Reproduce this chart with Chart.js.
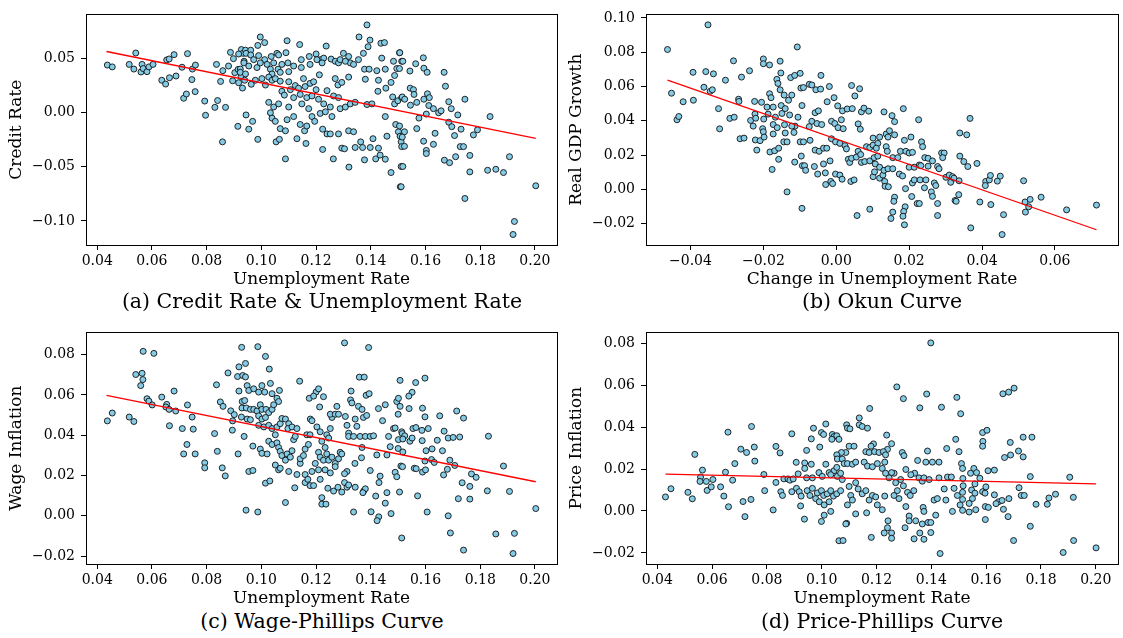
<!DOCTYPE html>
<html>
<head>
<meta charset="utf-8">
<script src="https://cdn.jsdelivr.net/npm/chart.js@4.4.0/dist/chart.umd.min.js"></script>
<style>
  body { margin: 0; background: #fff; width: 1123px; height: 638px; overflow: hidden; position: relative; font-family: 'DejaVu Serif', serif; }
  .panel { position: absolute; }
  .cap { position: absolute; font-size: 20.5px; color: #000; white-space: nowrap; transform: translate(-50%, -50%); }
</style>
</head>
<body>
<div class="panel" style="left:0;top:0"><canvas id="chartA" width="562" height="290"></canvas></div>
<div class="panel" style="left:560px;top:0"><canvas id="chartB" width="563" height="290"></canvas></div>
<div class="panel" style="left:0;top:318px"><canvas id="chartC" width="562" height="291"></canvas></div>
<div class="panel" style="left:560px;top:318px"><canvas id="chartD" width="563" height="291"></canvas></div>
<div class="cap" style="left:322px;top:301px">(a) Credit Rate &amp; Unemployment Rate</div>
<div class="cap" style="left:882px;top:301px">(b) Okun Curve</div>
<div class="cap" style="left:322px;top:621px">(c) Wage-Phillips Curve</div>
<div class="cap" style="left:882px;top:621px">(d) Price-Phillips Curve</div>
<script>
// Data block: [x, y] pairs
const creditVsUnemp = [
  [0.0437,0.0437],[0.0455,0.042],[0.0517,0.0443],[0.0534,0.040],[0.0541,0.0548],[0.0564,0.0443],[0.056,0.0373],[0.0568,0.0405],[0.0582,0.0376],[0.0589,0.042],
  [0.0604,0.0443],[0.0636,0.0297],[0.065,0.0262],[0.0654,0.0484],[0.0663,0.0493],[0.0664,0.032],[0.0681,0.0533],[0.0688,0.0336],[0.071,0.0417],[0.0716,0.0131],
  [0.0726,0.017],[0.073,0.0542],[0.0746,0.0303],[0.0748,0.04],[0.0759,0.0437],[0.0758,0.0192],[0.0793,0.0105],[0.0796,-0.0026],[0.083,0.0047],[0.0836,0.0443],
  [0.084,0.011],[0.0851,0.0286],[0.0859,0.0385],[0.0858,-0.0271],[0.0869,0.0047],[0.088,0.0428],[0.0887,0.0554],[0.0895,0.0292],[0.0898,0.0496],[0.0903,0.0367],
  [0.0914,-0.0128],[0.0917,0.0274],[0.0915,0.0397],[0.0923,0.04],[0.0927,0.058],[0.0931,0.0225],[0.0926,0.0332],[0.0933,0.0545],[0.0937,0.0472],
  [0.1386,0.0807],[0.1357,0.0696],[0.0996,0.0696],[0.1012,0.0644],[0.1094,0.0661],[0.114,0.0626],[0.1237,0.0612],[0.1397,0.0667],[0.139,0.0606],[0.1437,0.0638],
  [0.145,0.0644],[0.1505,0.0551],[0.0987,0.0618],[0.0942,0.0574],[0.0961,0.0574],[0.0917,0.0539],[0.0944,0.0545],[0.0961,0.053],[0.099,0.0524],[0.1012,0.0487],
  [0.1036,0.0516],[0.1057,0.0545],[0.1063,0.053],[0.109,0.0551],[0.1097,0.0457],[0.1118,0.0428],[0.1146,0.0487],[0.1175,0.0516],[0.1178,0.0443],[0.12,0.0539],
  [0.1216,0.0487],[0.1228,0.0501],[0.1255,0.0492],[0.127,0.0472],[0.1282,0.0457],[0.13,0.0545],[0.1319,0.0516],[0.1325,0.0457],[0.1337,0.0443],[0.1355,0.0487],
  [0.1373,0.0545],[0.1377,0.0399],[0.1394,0.0399],[0.1422,0.0385],[0.1428,0.0297],[0.1453,0.0399],[0.144,0.0501],[0.1483,0.0472],[0.1495,0.0405],[0.1487,0.0341],
  [0.1474,0.0277],[0.1513,0.0472],[0.0936,0.0457],[0.0954,0.0428],[0.0972,0.0487],[0.0984,0.0414],[0.0996,0.0457],[0.1021,0.0443],[0.1033,0.0399],[0.1045,0.0457],
  [0.1061,0.0399],[0.1075,0.0443],[0.0923,0.037],[0.1039,0.0355],[0.1069,0.037],[0.11,0.0376],[0.1146,0.0414],[0.1203,0.0487],[0.1222,0.0457],[0.1288,0.0487],
  [0.1307,0.0472],[0.0942,0.0355],[0.0939,0.0297],[0.0963,0.026],[0.0978,0.0297],[0.1002,0.0312],[0.1015,0.0253],[0.1027,0.0326],[0.1039,0.0297],[0.1051,0.0312],
  [0.1069,0.0288],[0.1075,0.0195],[0.1084,0.016],[0.11,0.0283],[0.1106,0.021],[0.1118,0.0137],[0.1124,0.0248],[0.1136,0.0224],[0.1154,0.0312],[0.116,0.0239],
  [0.1166,0.0137],[0.1178,0.0268],[0.1191,0.0283],[0.12,0.021],[0.1209,0.0122],[0.1212,0.0347],[0.1228,0.0079],[0.124,0.0201],[0.1252,0.005],[0.1264,0.0152],
  [0.127,0.0312],[0.128,0.0253],[0.1288,0.0035],[0.1294,0.0277],[0.1307,0.005],[0.1319,0.0326],[0.1325,0.0079],[0.1343,0.0093],[0.138,0.0306],[0.1386,0.0073],
  [0.1404,0.0079],[0.1426,0.0195],[0.1453,-0.0038],[0.1455,0.0224],[0.148,0.0143],[0.1487,0.0079],[0.1499,0.0108],[0.1513,0.0137],[0.1027,0.0093],[0.1045,0.005],
  [0.1063,0.0079],[0.11,0.005],[0.1148,0.0079],[0.1173,0.0035],[0.1215,-0.0009],[0.1234,0.0006],[0.1142,0.0166],[0.1185,0.0152],[0.1282,0.0137],
  [0.0944,-0.0023],[0.0968,-0.0082],[0.0954,-0.0154],[0.0987,-0.0248],[0.1033,-0.0003],[0.1039,-0.0052],[0.1051,-0.0082],[0.1069,-0.0149],[0.1088,-0.0169],[0.1054,-0.0271],
  [0.1066,-0.0248],[0.1088,-0.0428],[0.1094,-0.0067],[0.1118,-0.0038],[0.113,-0.0242],[0.1142,-0.0111],[0.1158,-0.0169],[0.1166,-0.0125],[0.1163,-0.0286],[0.1185,-0.0038],
  [0.1195,-0.0082],[0.1224,-0.0154],[0.1224,-0.0341],[0.124,-0.0198],[0.1252,-0.0198],[0.1258,-0.0038],[0.1282,-0.0198],[0.1294,-0.0329],[0.1304,-0.0335],[0.1263,-0.0428],
  [0.1319,-0.0169],[0.1337,-0.0178],[0.132,-0.0504],[0.1343,-0.0323],[0.1363,-0.0271],[0.137,-0.0323],[0.1377,-0.0437],[0.1398,-0.0323],[0.1408,-0.0242],[0.1428,-0.0329],
  [0.1418,-0.0428],[0.1434,-0.0393],[0.1459,-0.0219],[0.1453,-0.0431],[0.1474,-0.0554],[0.1491,-0.0111],[0.1501,-0.0178],[0.1507,-0.0219],[0.1511,-0.0271],[0.1508,-0.0685],
  [0.1511,-0.0498],[0.1513,-0.0315],
  [0.1506,0.0551],[0.1517,0.0472],[0.1505,0.0405],[0.1543,0.0382],[0.1564,0.0449],[0.1592,0.0504],[0.1594,0.0408],[0.1606,0.037],[0.1668,0.037],[0.1673,0.0242],
  [0.1544,0.0224],[0.1556,0.021],[0.1558,0.0166],[0.1515,0.0143],[0.1524,0.0122],[0.1545,0.0067],[0.1568,0.0093],[0.1594,0.0122],[0.1607,0.0172],[0.1614,0.0137],
  [0.1612,0.0064],[0.1629,0.0035],[0.1648,-0.0003],[0.1657,0.0015],[0.1685,0.0099],[0.1694,0.0035],[0.1718,-0.0023],[0.1744,0.0122],[0.1603,-0.0015],[0.1576,-0.0052],
  [0.1505,-0.0125],[0.1523,-0.0178],[0.1515,-0.0227],[0.1523,-0.0312],[0.1568,-0.0149],[0.1593,-0.0265],[0.1603,-0.035],[0.1603,-0.0379],[0.1629,-0.0294],[0.1635,-0.0192],
  [0.1685,-0.009],[0.1696,-0.0131],[0.1706,-0.0213],[0.173,-0.0154],[0.1727,-0.0315],[0.1739,-0.0315],[0.1775,-0.0207],[0.179,-0.016],[0.1836,-0.0038],[0.171,-0.0408],
  [0.1669,-0.044],[0.1688,-0.0463],[0.1762,-0.0396],[0.1762,-0.0548],[0.1827,-0.0533],[0.1857,-0.0524],[0.1885,-0.0554],[0.1907,-0.0408],[0.1744,-0.0793],[0.2003,-0.0676],
  [0.1925,-0.1005],[0.192,-0.1125],[0.1517,-0.0498],[0.1511,-0.0685]
];
const okunPts = [
  [-0.0352,0.096],[-0.0463,0.0816],[-0.0452,0.0561],[-0.0437,0.0406],[-0.0432,0.0425],[-0.042,0.0511],[-0.0392,0.052],[-0.0393,0.0683],[-0.0358,0.0687],[-0.0337,0.0674],
  [-0.0363,0.0596],[-0.0346,0.0572],[-0.034,0.0581],[-0.0323,0.0471],[-0.032,0.0353],[-0.0304,0.0637],[-0.0292,0.0414],[-0.028,0.0421],[-0.0282,0.075],[-0.0268,0.0526],
  [-0.0267,0.0513],[-0.0264,0.0295],[-0.0253,0.0299],[-0.026,0.0655],[-0.0238,0.0692],[-0.0235,0.0402],[-0.0228,0.0369],[-0.0223,0.0439],[-0.0221,0.0415],[-0.0224,0.0513],
  [-0.0222,0.0288],[-0.0218,0.0229],[-0.0209,0.0284],[-0.0205,0.0508],[-0.02,0.0761],[-0.02,0.0733],[-0.0183,0.0726],[-0.0199,0.041],[-0.0202,0.0354],[-0.02,0.0336],
  [-0.0198,0.0305],[-0.019,0.048],[-0.0187,0.0439],[-0.0173,0.048],[-0.0183,0.0558],[-0.0179,0.0535],[-0.0182,0.0218],[-0.0176,0.0116],[-0.0169,0.0225],[-0.0158,0.024],
  [-0.0158,0.0175],[-0.0173,0.0378],[-0.0167,0.0421],[-0.0173,0.0323],[-0.0162,0.036],[-0.0163,0.0642],[-0.016,0.0618],[-0.0154,0.0748],[-0.0152,0.0679],[-0.0154,0.0581],
  [-0.0151,0.0489],[-0.0149,0.0443],[-0.0143,0.055],[-0.014,0.0471],[-0.0142,0.0377],[-0.014,0.0329],[-0.0135,-0.0015],[-0.0144,0.0277],[-0.0135,0.0277],[-0.0131,0.052],
  [-0.0122,0.055],[-0.0125,0.0652],[-0.0114,0.0665],[-0.0107,0.0831],[-0.0099,0.0677],[-0.0113,0.0369],[-0.0116,0.0332],[-0.0114,0.0159],[-0.0105,0.0421],[-0.0097,0.0591],
  [-0.0094,0.0489],[-0.0099,0.0277],[-0.0096,0.0194],[-0.0093,0.0138],[-0.0094,-0.0111],[-0.0128,0.0434],[-0.0122,0.0369],
  [-0.009,0.0594],[-0.0074,0.0613],[-0.0067,0.0609],[-0.0056,0.0581],[-0.0043,0.0585],[-0.0042,0.0665],[-0.0019,0.06],[-0.0067,0.0397],[-0.0074,0.0366],[-0.0053,0.0384],
  [-0.004,0.0378],[-0.0058,0.0447],[-0.0049,0.0458],[-0.0025,0.0511],[-0.0006,0.0535],[0.0004,0.0487],[0.0017,0.0458],[0.003,0.0469],[0.0044,0.0471],[0.0042,0.0606],
  [0.0064,0.0587],[0.0051,0.0545],[0.0069,0.0452],[0.0076,0.0474],[0.0089,0.0456],[0.006,0.0382],[0.0066,0.0351],[0.0131,0.0452],[0.0153,0.043],[0.016,0.0395],
  [0.0184,0.0471],[0.0226,0.0406],[-0.0013,0.0397],[-0.0004,0.0384],[0.0005,0.036],[0.0014,0.0406],[0.0019,0.0354],[-0.009,0.0277],[-0.0072,0.0286],[-0.0058,0.0229],
  [-0.0047,0.0222],[-0.0035,0.024],[-0.0026,0.024],[-0.0087,0.0138],[-0.0084,0.0111],[-0.006,0.0133],[-0.0051,0.0089],[-0.0035,0.0148],[-0.003,0.0096],[-0.0017,0.0166],
  [-0.0029,0.0028],[-0.0015,0.0046],[-0.001,0.0033],[-0.0002,0.0089],[0.001,0.0083],[0.0016,0.0059],[0.004,0.0046],[0.0049,0.0055],[-0.0013,0.0295],[-0.0002,0.0277],
  [0.001,0.0268],[0.0024,0.0255],[0.0028,0.0236],[0.0033,0.0175],[0.0037,0.0157],[0.0042,0.0181],[0.0055,0.0188],[0.006,0.0222],[0.0067,0.0203],[0.0069,0.0157],
  [0.0078,0.0162],[0.0092,0.0166],[0.0104,0.0185],[0.0107,0.0148],[0.0114,0.0194],[0.0083,0.0249],[0.0092,0.0244],[0.0101,0.0258],[0.0114,0.0268],[0.011,0.024],
  [0.0101,0.0299],[0.0119,0.0305],[0.0137,0.0323],[0.0146,0.0342],[0.0142,0.0305],[0.016,0.0318],[0.0137,0.0249],[0.014,0.0222],[0.0155,0.0185],[0.0169,0.0185],
  [0.0176,0.0222],[0.0191,0.0222],[0.02,0.0212],[0.0209,0.0216],[0.0187,0.0286],[0.0205,0.0305],[0.0234,0.0277],[0.0237,0.0249],[0.0101,0.0074],[0.0105,0.0102],
  [0.0119,0.0065],[0.0128,0.0083],[0.0133,0.0046],[0.0134,0.0018],[0.0143,0.0015],[0.0119,0.0129],[0.0131,0.0111],[0.0142,0.012],[0.0155,0.012],[0.0173,0.0089],
  [0.0182,0.0078],[0.02,0.0129],[0.0214,0.0129],[0.0228,0.0142],[0.0232,0.0138],[0.0209,0.0037],[0.0214,0.0055],[0.023,0.0055],[0.0246,0.0055],[0.0242,0.0009],
  [0.0243,0.0185],[0.0252,0.0181],[0.0264,0.0166],[0.0252,0.0135],[0.0278,0.0133],[0.0289,0.0212],[0.0296,0.0212],[0.0292,0.0185],[0.0282,0.012],[0.0269,0.0037],
  [0.0273,0.0022],[0.0261,-0.0015],[0.0264,-0.0041],[0.0301,0.007],[0.031,0.0083],[0.0319,0.0074],[0.0314,0.0041],[0.0323,0.0065],[0.0339,0.0329],[0.0339,0.0194],
  [0.016,-0.0046],[0.0158,-0.007],[0.0189,-0.0102],[0.0185,-0.0129],[0.0183,-0.0157],[0.0187,-0.0207],[0.0155,-0.0133],[0.015,-0.017],[0.0057,-0.0153],[0.0092,-0.0116],
  [0.0222,-0.0083],[0.0228,-0.0083],[0.0278,-0.0083],[0.0278,-0.0153],[0.0326,-0.0065],[0.0329,-0.007],[0.0336,-0.0031],[0.019,0.0004],[0.0207,-0.0042],
  [0.0367,0.0414],[0.0358,0.0318],[0.035,0.0162],[0.0361,0.0133],[0.0386,0.0151],[0.0337,0.005],[0.041,0.0046],[0.0409,0.0022],[0.042,0.0055],[0.0423,0.0081],
  [0.0442,0.0048],[0.045,0.0077],[0.0514,0.005],[0.0394,-0.0074],[0.0424,-0.0089],[0.0459,-0.0148],[0.0369,-0.0225],[0.0455,-0.0264],[0.0518,-0.0074],[0.0532,-0.0059],
  [0.0528,-0.0102],[0.0519,-0.0133],[0.0562,-0.0046],[0.0632,-0.012],[0.0714,-0.0092]
];
const wagePts = [
  [0.0437,0.0471],[0.0455,0.051],[0.0517,0.049],[0.0534,0.0468],[0.0568,0.0816],[0.0607,0.0806],[0.0541,0.0701],[0.0564,0.0707],[0.0567,0.0676],[0.0559,0.0646],
  [0.0582,0.0581],[0.0589,0.0569],[0.0601,0.055],[0.0636,0.0589],[0.0654,0.0553],[0.0651,0.054],[0.0663,0.0528],[0.0681,0.0619],[0.0687,0.052],[0.0664,0.0447],
  [0.0711,0.0433],[0.073,0.055],[0.0747,0.049],[0.0751,0.043],[0.0728,0.0354],[0.0716,0.0307],[0.0758,0.0307],[0.0793,0.0263],[0.0793,0.0238],[0.0829,0.0408],
  [0.0839,0.032],[0.0836,0.065],[0.085,0.0565],[0.086,0.0543],[0.0857,0.0238],[0.0868,0.0198],[0.0878,0.0709],[0.0888,0.0521],[0.0901,0.0502],[0.0895,0.0471],
  [0.0894,0.0425],[0.0915,0.0307],[0.0913,0.0691],[0.0928,0.0836],[0.0918,0.0739],[0.0918,0.0619],[0.0932,0.0696],[0.0929,0.0535],[0.0927,0.049],[0.0937,0.0394],
  [0.0987,0.0839],[0.1015,0.0791],[0.0942,0.0756],[0.1029,0.0728],[0.1033,0.0657],[0.114,0.0668],[0.1304,0.0858],[0.1392,0.0835],[0.1358,0.0688],[0.1376,0.0688],
  [0.1507,0.0672],[0.0942,0.0689],[0.0948,0.0646],[0.0954,0.0622],[0.0972,0.063],[0.099,0.0614],[0.1002,0.0646],[0.1012,0.0614],[0.1039,0.0606],[0.1066,0.0622],
  [0.1057,0.0583],[0.1063,0.0567],[0.093,0.0567],[0.0939,0.0572],[0.0945,0.0535],[0.096,0.0528],[0.0972,0.0528],[0.0984,0.052],[0.0996,0.0551],[0.1002,0.0528],
  [0.1017,0.0528],[0.1027,0.0512],[0.1039,0.0528],[0.1045,0.0551],[0.0948,0.048],[0.096,0.0477],[0.099,0.0496],[0.1002,0.048],[0.1015,0.0488],[0.099,0.0449],
  [0.1009,0.0441],[0.1027,0.0449],[0.1039,0.0433],[0.1057,0.0441],[0.1069,0.0457],[0.1075,0.0483],[0.1088,0.048],[0.11,0.0457],[0.1097,0.0433],[0.1112,0.0441],
  [0.0969,0.0346],[0.0996,0.0331],[0.1002,0.031],[0.1021,0.0307],[0.1027,0.037],[0.1039,0.0354],[0.1051,0.0402],[0.1057,0.0362],[0.1063,0.0339],[0.1069,0.032],
  [0.1075,0.0299],[0.1088,0.0276],[0.1094,0.0307],[0.1106,0.0291],[0.1112,0.0323],[0.1118,0.0378],[0.1124,0.0394],[0.113,0.0433],[0.1051,0.0252],[0.1063,0.0228],
  [0.1069,0.0236],[0.11,0.022],[0.113,0.0205],[0.1142,0.026],[0.1142,0.0283],[0.1154,0.0299],[0.116,0.0331],[0.1172,0.0354],[0.1166,0.0402],[0.1178,0.0402],
  [0.116,0.0205],[0.116,0.0165],[0.117,0.0181],[0.1178,0.015],[0.1191,0.015],[0.1197,0.026],[0.1185,0.022],[0.1015,0.0162],[0.1031,0.0173],[0.0954,0.022],
  [0.0969,0.0225],[0.0944,0.0028],[0.0987,0.0019],[0.1088,0.0066],[0.1122,0.0139],[0.1179,0.048],[0.1185,0.0472],[0.12,0.0614],[0.1209,0.063],[0.1213,0.054],
  [0.1175,0.0583],[0.1191,0.0594],[0.1227,0.0591],[0.1203,0.0441],[0.1215,0.0417],[0.1221,0.037],[0.1233,0.0339],[0.1239,0.0402],[0.1246,0.0386],[0.1252,0.0433],
  [0.1258,0.0488],[0.1252,0.0504],[0.1209,0.0315],[0.1215,0.0291],[0.1227,0.0276],[0.1239,0.0307],[0.1246,0.0276],[0.1258,0.0291],[0.127,0.026],[0.1282,0.0283],
  [0.1288,0.0315],[0.1294,0.0307],[0.1209,0.0228],[0.1215,0.0181],[0.1233,0.0228],[0.1252,0.0213],[0.127,0.0244],[0.1221,0.009],[0.1221,0.0058],[0.1236,0.0058],
  [0.1243,0.0137],[0.1264,0.0123],[0.128,0.0142],[0.1294,0.0118],[0.1304,0.0165],[0.1313,0.0142],[0.1319,0.0153],[0.1343,0.0142],[0.1374,0.0123],[0.138,0.0134],
  [0.1371,0.0115],[0.1418,0.0098],[0.143,0.0165],[0.1434,0.0197],[0.1459,0.0115],[0.1453,0.0063],[0.1474,0.0011],[0.1429,-0.0005],[0.1423,-0.0024],[0.1401,0.002],
  [0.1337,0.0019],[0.127,0.0504],[0.1282,0.0504],[0.1276,0.0543],[0.1307,0.0493],[0.1313,0.0449],[0.1319,0.041],[0.1326,0.0575],[0.1331,0.056],[0.1328,0.0619],
  [0.1343,0.048],[0.1355,0.0543],[0.1368,0.0528],[0.1373,0.0488],[0.1383,0.0598],[0.1394,0.0606],[0.1385,0.0498],[0.1319,0.0394],[0.1337,0.0394],[0.1349,0.0444],
  [0.1361,0.0394],[0.1368,0.0339],[0.138,0.0394],[0.1398,0.0394],[0.141,0.0397],[0.1342,0.026],[0.1366,0.0288],[0.1398,0.0225],[0.1422,0.0302],[0.1428,0.0532],
  [0.1443,0.0472],[0.1453,0.0551],[0.1459,0.0302],[0.1471,0.0343],[0.1465,0.0394],[0.1313,0.022],[0.1304,0.0209],[0.1483,0.0433],[0.1489,0.0436],[0.1495,0.0567],
  [0.1501,0.0583],[0.1507,0.0543],[0.1501,0.0378],[0.1513,0.0417],[0.1489,0.0216],[0.1495,0.0194],[0.151,0.0247],[0.1505,0.0118],[0.1513,-0.011],
  [0.1564,0.0661],[0.1598,0.0683],[0.1551,0.0613],[0.1539,0.0594],[0.15,0.0504],[0.154,0.0532],[0.1589,0.0534],[0.1598,0.0491],[0.1652,0.0496],[0.1714,0.052],
  [0.1739,0.0485],[0.1515,0.0408],[0.1524,0.0397],[0.1517,0.0381],[0.1543,0.037],[0.1551,0.0386],[0.1554,0.0433],[0.1565,0.0438],[0.1587,0.0424],[0.1588,0.0373],
  [0.161,0.0433],[0.1643,0.0375],[0.1668,0.042],[0.1683,0.0386],[0.1701,0.0389],[0.1725,0.0391],[0.183,0.0395],[0.15,0.0334],[0.1517,0.0317],[0.1602,0.0323],
  [0.1624,0.0332],[0.1662,0.0323],[0.1516,0.0244],[0.1598,0.0272],[0.1622,0.0279],[0.1632,0.0265],[0.1689,0.0276],[0.1707,0.025],[0.168,0.0231],[0.1666,0.0203],
  [0.1559,0.0236],[0.1566,0.0234],[0.1589,0.0217],[0.16,0.0228],[0.1768,0.0208],[0.1785,0.0191],[0.1885,0.0247],[0.1734,0.0164],[0.1762,0.0146],[0.1826,0.0124],
  [0.1907,0.0121],[0.172,0.0085],[0.1762,0.0083],[0.1571,0.0099],[0.1606,0.0019],[0.1683,0.0],[0.1691,-0.0085],[0.1857,-0.009],[0.1925,-0.0087],[0.1739,-0.017],
  [0.192,-0.0187],[0.2003,0.0036]
];
const pricePts = [
  [0.043,0.0067],[0.045,0.0106],[0.0512,0.0089],[0.0528,0.0058],[0.0537,0.027],[0.0558,0.0162],[0.0556,0.0141],[0.0565,0.0195],[0.0579,0.0141],[0.0582,0.0098],
  [0.0597,0.0115],[0.0603,0.015],[0.0631,0.0115],[0.0643,0.0071],[0.0649,0.0185],[0.0658,0.0376],[0.066,0.002],[0.0675,0.0147],[0.0683,0.0226],[0.0705,0.0295],
  [0.0713,0.0045],[0.072,-0.0027],[0.0726,0.0279],[0.0742,0.0055],[0.0744,0.0403],[0.0754,0.0305],[0.0756,0.0238],[0.0789,0.0174],[0.0792,0.0097],[0.0823,0.0005],
  [0.0833,0.0136],[0.0833,0.0308],[0.0848,0.0277],[0.0851,0.0092],[0.0857,0.0074],[0.0862,0.0153],[0.0877,0.0153],[0.0884,0.0147],[0.0891,0.0368],[0.0891,0.0092],
  [0.0896,0.0153],[0.0907,0.0232],[0.0908,0.0108],[0.0914,0.0177],[0.0918,0.0092],[0.0923,0.0024],[0.0925,0.0071],
  [0.1398,0.0802],[0.1274,0.0592],[0.1298,0.0536],[0.1383,0.0558],[0.1358,0.0492],[0.1437,0.0495],[0.1493,0.0542],[0.1507,0.0464],[0.1175,0.0489],[0.1137,0.0444],
  [0.1137,0.0411],[0.1148,0.0403],[0.1167,0.0395],[0.1091,0.0411],[0.1094,0.0395],[0.1103,0.0392],[0.097,0.0395],[0.0999,0.0374],[0.1015,0.0415],[0.1007,0.0365],
  [0.1039,0.0365],[0.1045,0.0355],[0.1055,0.0359],[0.1063,0.0342],[0.0962,0.0344],[0.0945,0.0289],[0.0993,0.0305],[0.1037,0.0342],[0.1237,0.0362],[0.1255,0.0321],
  [0.124,0.0294],[0.1294,0.0279],[0.13,0.0264],[0.1189,0.032],[0.118,0.0309],[0.1161,0.0283],[0.1173,0.0279],[0.1193,0.0283],[0.1209,0.0279],[0.1225,0.0283],
  [0.1233,0.0268],[0.11,0.0309],[0.1118,0.0309],[0.1088,0.0279],[0.1072,0.0279],[0.1055,0.0268],[0.1057,0.0248],[0.1075,0.0248],[0.1082,0.0226],[0.1094,0.0226],
  [0.1112,0.0223],[0.1124,0.0233],[0.1155,0.0233],[0.1167,0.0214],[0.1185,0.0211],[0.1203,0.0226],[0.123,0.0233],[0.1221,0.0203],[0.1386,0.0286],[0.135,0.0241],
  [0.1307,0.0198],[0.1339,0.018],[0.1325,0.0173],[0.1264,0.018],[0.1255,0.0183],[0.1288,0.015],[0.127,0.0135],[0.1246,0.0158],[0.1233,0.018],[0.0938,0.0229],
  [0.0962,0.0223],[0.0938,0.0203],[0.0945,0.0158],[0.0966,0.0158],[0.099,0.0183],[0.1002,0.0165],[0.1015,0.0223],[0.1027,0.0183],[0.1045,0.0192],[0.1055,0.0208],
  [0.1033,0.0173],[0.1057,0.0165],[0.1075,0.015],[0.1069,0.018],[0.0947,0.0097],[0.0957,0.0074],[0.0966,0.0108],[0.0984,0.0086],[0.0999,0.0097],[0.1007,0.0074],
  [0.102,0.0082],[0.1033,0.0097],[0.1043,0.0071],[0.1055,0.0082],[0.1069,0.0097],[0.0978,0.0059],[0.0991,0.0044],[0.1009,0.0029],[0.1027,0.0044],[0.1033,-0.0002],
  [0.0937,-0.0039],[0.1009,-0.002],[0.0999,-0.005],[0.11,0.0117],[0.1106,0.0074],[0.1124,0.0135],[0.1133,0.0105],[0.1148,0.0082],[0.1161,0.0097],[0.1173,0.0052],
  [0.1185,0.0074],[0.1197,0.0067],[0.1203,0.0029],[0.1221,0.0006],[0.123,0.0071],[0.1112,0.0052],[0.1094,0.0029],[0.1091,-0.0059],[0.1088,-0.0062],[0.1063,-0.0142],
  [0.1078,-0.0141],[0.1124,-0.0014],[0.1164,-0.0009],[0.1181,-0.0126],[0.1242,-0.0047],[0.124,-0.008],[0.1228,-0.0105],[0.1255,-0.0105],[0.1255,-0.013],[0.1264,0.0074],
  [0.1276,0.0097],[0.1282,0.0059],[0.1298,0.012],[0.1313,0.0089],[0.1323,0.0074],[0.1336,0.0097],[0.1307,0.0021],[0.1319,-0.0024],[0.1319,-0.0047],[0.1304,-0.008],
  [0.1337,-0.0133],[0.1343,-0.0047],[0.137,0.0017],[0.1373,-0.0002],[0.1367,-0.0062],[0.1358,-0.0105],[0.1373,-0.0135],[0.1388,-0.0055],[0.1398,-0.0055],[0.1398,-0.0103],
  [0.1432,-0.0203],[0.1355,0.0158],[0.1367,0.0142],[0.1373,0.0158],[0.1392,0.015],[0.141,0.0052],[0.1422,0.0059],[0.1416,-0.002],[0.1453,0.0052],[0.1447,0.0105],
  [0.1428,0.0158],[0.1459,0.0162],[0.1473,0.0162],[0.1483,0.0108],[0.1477,-0.0002],[0.1495,0.0074],[0.1505,0.0029],[0.138,0.0233],[0.1404,0.0233],[0.1428,0.0233],
  [0.1456,0.0298],[0.1489,0.0342],[0.1501,0.0283],[0.151,0.0226],
  [0.1661,0.0559],[0.1682,0.0567],[0.1702,0.0586],[0.1587,0.0374],[0.1603,0.0385],[0.1588,0.0332],[0.1587,0.0309],[0.1688,0.0327],[0.1735,0.0352],[0.1767,0.0352],
  [0.1718,0.0286],[0.1689,0.0267],[0.1667,0.0255],[0.1735,0.0258],[0.1514,0.0203],[0.1555,0.0203],[0.1543,0.018],[0.1565,0.0183],[0.1577,0.0156],[0.1515,0.0155],
  [0.1607,0.0192],[0.163,0.0195],[0.1761,0.0164],[0.1905,0.0161],[0.1516,0.012],[0.1559,0.0129],[0.1547,0.01],[0.1514,0.0089],[0.1514,0.0055],[0.1559,0.0085],
  [0.155,0.0059],[0.1538,0.0036],[0.1587,0.0092],[0.1599,0.0115],[0.1596,0.0085],[0.163,0.0077],[0.1645,0.0044],[0.1636,0.0035],[0.1658,0.005],[0.1683,0.0059],
  [0.172,0.0111],[0.1728,0.0074],[0.1739,0.0074],[0.1597,0.0021],[0.1608,0.0017],[0.1663,0.0008],[0.1562,0.0006],[0.1514,0.0003],[0.1538,-0.0005],[0.1597,-0.0041],
  [0.168,-0.0027],[0.1782,0.0032],[0.1823,0.0032],[0.1829,0.0062],[0.1853,0.008],[0.1918,0.0065],[0.1761,-0.0073],[0.17,-0.0141],[0.1919,-0.0141],[0.1881,-0.0198],
  [0.2001,-0.0176]
];

// Fitted lines (end points)
const creditFit = [[0.0434,0.0562],[0.2003,-0.0239]];
const okunFit = [[-0.0463,0.0637],[0.0714,-0.0236]];
const wageFit = [[0.0434,0.0598],[0.2003,0.0169]];
const priceFit = [[0.043,0.0176],[0.2001,0.0129]];

// Tick values
const unempTicks = [0.04,0.06,0.08,0.10,0.12,0.14,0.16,0.18,0.20];
const changeTicks = [-0.04,-0.02,0.00,0.02,0.04,0.06];
const creditTicks = [-0.10,-0.05,0.00,0.05];
const gdpTicks = [-0.02,0.00,0.02,0.04,0.06,0.08,0.10];
const inflTicks = [-0.02,0.00,0.02,0.04,0.06,0.08];

Chart.defaults.font.family = "'DejaVu Serif', serif";
Chart.defaults.color = '#000';

// tick label: matplotlib style minus sign
const fmt = v => (v < -1e-9 ? '\u2212' : '') + Math.abs(v).toFixed(2);

// Frame plugin: closes the box around the plot area
const frameBox = {
    id: 'frameBox',
    afterDraw(chart) {
        const {ctx, chartArea: a} = chart;
        ctx.save();
        ctx.strokeStyle = '#000';
        ctx.lineWidth = 1;
        ctx.strokeRect(Math.round(a.left) + 0.5, Math.round(a.top) + 0.5,
            Math.round(a.right - a.left), Math.round(a.bottom - a.top));
        ctx.restore();
    }
};

function makePanel(id, pts, fit, xTicks, yTicks, xr, yr, xTitle, yTitle, padTop, padRight) {
    const axisCommon = {
        type: 'linear',
        grid: {drawOnChartArea: false, drawTicks: true, tickLength: 5, color: '#000', lineWidth: 1},
        border: {display: true, color: '#000', width: 1},
    };
    return new Chart(document.getElementById(id), {
        type: 'scatter',
        data: {
            datasets: [{
                type: 'line',
                data: fit.map(p => ({x: p[0], y: p[1]})),
                borderColor: 'red',
                borderWidth: 1.3,
                pointRadius: 0,
                showLine: true,
                fill: false
            }, {
                data: pts.map(p => ({x: p[0], y: p[1]})),
                backgroundColor: '#84cbe6',
                borderColor: '#111',
                borderWidth: 0.9,
                pointRadius: 3
            }]
        },
        options: {
            responsive: false,
            animation: false,
            devicePixelRatio: 1,
            layout: {padding: {top: padTop, right: padRight, left: 0, bottom: 0}},
            plugins: {legend: {display: false}, tooltip: {enabled: false}},
            scales: {
                x: Object.assign({}, axisCommon, {
                    position: 'bottom',
                    min: xr[0], max: xr[1],
                    afterBuildTicks: s => { s.ticks = xTicks.map(v => ({value: v})); },
                    afterFit: s => { s.height = 45; },
                    ticks: {callback: fmt, font: {size: 14}, padding: 3, maxRotation: 0, autoSkip: false},
                    title: {display: true, text: xTitle, font: {size: 17}, padding: {top: 0, bottom: 0}}
                }),
                y: Object.assign({}, axisCommon, {
                    min: yr[0], max: yr[1],
                    afterBuildTicks: s => { s.ticks = yTicks.map(v => ({value: v})); },
                    afterFit: s => { s.width = 86; },
                    ticks: {callback: fmt, font: {size: 14}, padding: 6, autoSkip: false},
                    title: {display: true, text: yTitle, font: {size: 17}, padding: {top: 6, bottom: 0}}
                })
            }
        },
        plugins: [frameBox]
    });
}

// render / init block
makePanel('chartA', creditVsUnemp, creditFit, unempTicks, creditTicks,
    [0.0359, 0.2081], [-0.1222, 0.0904], 'Unemployment Rate', 'Credit Rate', 3, 4);
makePanel('chartB', okunPts, okunFit, changeTicks, gdpTicks,
    [-0.0522, 0.0773], [-0.0325, 0.1021], 'Change in Unemployment Rate', 'Real GDP Growth', 3, 5);
makePanel('chartC', wagePts, wageFit, unempTicks, inflTicks,
    [0.0359, 0.2081], [-0.0239, 0.0910], 'Unemployment Rate', 'Wage Inflation', 4, 4);
makePanel('chartD', pricePts, priceFit, unempTicks, inflTicks,
    [0.0359, 0.2081], [-0.0253, 0.0852], 'Unemployment Rate', 'Price Inflation', 4, 5);
</script>
</body>
</html>
